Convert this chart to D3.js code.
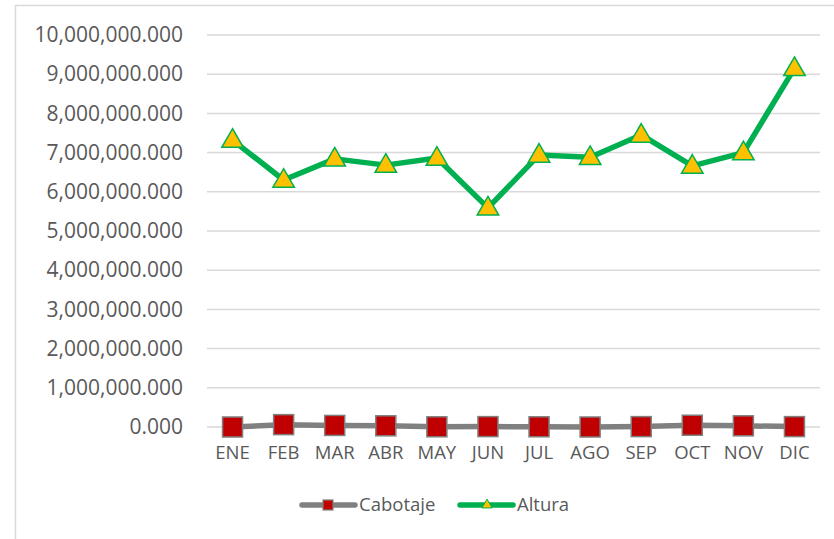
<!DOCTYPE html>
<html>
<head>
<meta charset="utf-8">
<script src="https://cdn.jsdelivr.net/npm/d3@7"></script>
<style>
  body { margin: 0; background: #fff; }
  text { font-family: "Open Sans", sans-serif; fill: #595959; }
</style>
</head>
<body>
<div id="chart"></div>
<script>
// months and series (values in units)
const months = ["ENE","FEB","MAR","ABR","MAY","JUN","JUL","AGO","SEP","OCT","NOV","DIC"];
const cabotaje = [0, 60000, 40000, 30000, 5000, 10000, 5000, 0, 10000, 45000, 30000, 10000];
const altura = [7320000, 6300000, 6840000, 6680000, 6860000, 5590000, 6940000, 6880000, 7450000, 6660000, 7000000, 9150000];
const yTicks = [0,1e6,2e6,3e6,4e6,5e6,6e6,7e6,8e6,9e6,10e6];

const width = 834, height = 539;
const margin = {top: 35, right: 14, bottom: 112, left: 207};

const svg = d3.select("#chart").append("svg")
    .attr("width", width)
    .attr("height", height);

// chart frame
svg.append("rect")
    .attr("x", 15.5).attr("y", 5.5)
    .attr("width", width + 20).attr("height", height + 20)
    .attr("fill", "none")
    .attr("stroke", "#d9d9d9")
    .attr("stroke-width", 1.5);

const x = d3.scaleBand()
    .domain(months)
    .range([margin.left, width - margin.right]);

const y = d3.scaleLinear()
    .domain([0, 10e6])
    .range([height - margin.bottom, margin.top]);

const fmt = v => d3.format(",.3f")(v);

// gridlines
svg.append("g")
    .selectAll("line")
    .data(yTicks)
    .enter().append("line")
    .attr("x1", margin.left).attr("x2", width - margin.right)
    .attr("y1", d => y(d)).attr("y2", d => y(d))
    .attr("stroke", "#d9d9d9")
    .attr("stroke-width", 1.5);

// y axis labels
const yAxis = svg.append("g")
    .attr("transform", `translate(${margin.left},0)`)
    .call(d3.axisLeft(y).tickValues(yTicks).tickFormat(fmt).tickSize(0).tickPadding(24));
yAxis.select(".domain").remove();
yAxis.selectAll("text")
    .style("font-size", "21px")
    .attr("fill", "#595959");

// x axis labels
const xAxis = svg.append("g")
    .attr("transform", `translate(0,${height - margin.bottom})`)
    .call(d3.axisBottom(x).tickSize(0).tickPadding(19));
xAxis.select(".domain").remove();
xAxis.selectAll("text")
    .style("font-size", "18.5px")
    .attr("fill", "#595959");

const cx = d => x(d) + x.bandwidth() / 2;

const line = d3.line()
    .x((d, i) => cx(months[i]))
    .y(d => y(d));

// Cabotaje
svg.append("path")
    .datum(cabotaje)
    .attr("d", line)
    .attr("fill", "none")
    .attr("stroke", "#808080")
    .attr("stroke-width", 5.5)
    .attr("stroke-linejoin", "round");

svg.append("g")
    .selectAll("rect")
    .data(cabotaje)
    .enter().append("rect")
    .attr("x", (d, i) => cx(months[i]) - 10)
    .attr("y", d => y(d) - 10)
    .attr("width", 20).attr("height", 20)
    .attr("fill", "#c00000")
    .attr("stroke", "#7f7f7f")
    .attr("stroke-width", 1.5);

// Altura
svg.append("path")
    .datum(altura)
    .attr("d", line)
    .attr("fill", "none")
    .attr("stroke", "#00b050")
    .attr("stroke-width", 5.5)
    .attr("stroke-linejoin", "round");

const tri = d3.symbol().type(d3.symbolTriangle).size(200);

svg.append("g")
    .selectAll("path")
    .data(altura)
    .enter().append("path")
    .attr("d", tri)
    .attr("transform", (d, i) => `translate(${cx(months[i])},${y(d) + 1})`)
    .attr("fill", "#ffc000")
    .attr("stroke", "#00b050")
    .attr("stroke-width", 1.5);

// legend
const lg = svg.append("g").attr("transform", "translate(0,505)");

lg.append("line")
    .attr("x1", 302).attr("x2", 355).attr("y1", 0).attr("y2", 0)
    .attr("stroke", "#808080").attr("stroke-width", 5.5).attr("stroke-linecap", "round");
lg.append("rect")
    .attr("x", 323).attr("y", -5).attr("width", 10).attr("height", 10)
    .attr("fill", "#c00000").attr("stroke", "#7f7f7f").attr("stroke-width", 1.2);
lg.append("text")
    .attr("x", 359).attr("y", 0).attr("dy", "0.35em")
    .style("font-size", "18.5px")
    .text("Cabotaje");

lg.append("line")
    .attr("x1", 460).attr("x2", 513).attr("y1", 0).attr("y2", 0)
    .attr("stroke", "#00b050").attr("stroke-width", 5.5).attr("stroke-linecap", "round");
lg.append("path")
    .attr("d", d3.symbol().type(d3.symbolTriangle).size(45))
    .attr("transform", "translate(487,0)")
    .attr("fill", "#ffc000").attr("stroke", "#00b050").attr("stroke-width", 1);
lg.append("text")
    .attr("x", 517).attr("y", 0).attr("dy", "0.35em")
    .style("font-size", "18.5px")
    .text("Altura");
</script>
</body>
</html>
